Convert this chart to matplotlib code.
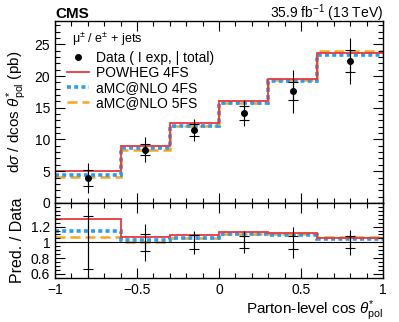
import matplotlib
matplotlib.use("Agg")
import matplotlib.pyplot as plt
import numpy as np
from matplotlib.ticker import MultipleLocator
from matplotlib.lines import Line2D

# bin edges in cos theta*_pol
edges = [-1.0, -0.6, -0.3, 0.0, 0.3, 0.6, 1.0]
centers = [-0.8, -0.45, -0.15, 0.15, 0.45, 0.8]

data_vals = [3.9, 8.4, 11.5, 14.2, 17.6, 22.4]
data_tot = [2.4, 2.0, 1.7, 2.0, 3.4, 3.6]
data_exp = [1.3, 0.9, 1.0, 1.1, 1.4, 1.7]

powheg_4fs = [5.05, 9.0, 12.55, 16.0, 19.6, 23.6]
amc_4fs = [4.45, 8.7, 12.2, 15.75, 19.3, 23.4]
amc_5fs = [4.15, 8.4, 12.1, 15.7, 19.4, 23.9]

RED = "#e8383d"
BLUE = "#2b9cf0"
ORANGE = "#f5a81c"

plt.rcParams["font.family"] = "Liberation Sans"
plt.rcParams["mathtext.fontset"] = "custom"
plt.rcParams["mathtext.rm"] = "Liberation Sans"
plt.rcParams["mathtext.it"] = "Liberation Sans:italic"


def style_axis(ax):
    ax.tick_params(which="both", direction="in", top=True, right=True, labelsize=10)
    ax.tick_params(which="major", length=7, width=0.8)
    ax.tick_params(which="minor", length=3.5, width=0.8)
    for sp in ax.spines.values():
        sp.set_linewidth(1.0)


fig = plt.figure(figsize=(3.99, 3.22), dpi=100)
ax = fig.add_axes([0.138, 0.370, 0.822, 0.565])
rax = fig.add_axes([0.138, 0.137, 0.822, 0.233], sharex=ax)

d = np.array(data_vals)
models = [
    (powheg_4fs, dict(color=RED, lw=1.3, ls="-"), "POWHEG 4FS"),
    (amc_4fs, dict(color=BLUE, lw=2.6, ls=(0, (1.1, 0.9))), "aMC@NLO 4FS"),
    (amc_5fs, dict(color=ORANGE, lw=1.8, ls=(0, (4, 2))), "aMC@NLO 5FS"),
]

# draw 5FS first, then 4FS dotted on top, red on top
for vals, kw, _ in [models[2], models[1], models[0]]:
    ax.stairs(vals, edges, baseline=None, **kw)
    rax.stairs(np.array(vals) / d, edges, baseline=None, **kw)

ax.errorbar(centers, data_vals, yerr=data_tot, fmt="none", ecolor="black",
            elinewidth=0.8, capsize=0, zorder=5)
ax.errorbar(centers, data_vals, yerr=data_exp, fmt="o", color="black", ms=4,
            ecolor="black", elinewidth=0.8, capsize=3.5, capthick=0.8, zorder=6)

rax.errorbar(centers, np.ones(6), yerr=np.array(data_tot) / d, fmt="none",
             ecolor="black", elinewidth=0.8, capsize=0, zorder=5)
rax.errorbar(centers, np.ones(6), yerr=np.array(data_exp) / d, fmt="none",
             ecolor="black", elinewidth=0.8, capsize=3.5, capthick=0.8, zorder=6)
rax.axhline(1.0, color="black", lw=0.8, zorder=1)

ax.set_xlim(-1, 1)
ax.set_ylim(0, 28.7)
ax.yaxis.set_major_locator(MultipleLocator(5))
ax.yaxis.set_minor_locator(MultipleLocator(1))
ax.xaxis.set_major_locator(MultipleLocator(0.5))
ax.xaxis.set_minor_locator(MultipleLocator(0.1))
plt.setp(ax.get_xticklabels(), visible=False)
ax.set_ylabel(r"d$\sigma$ / dcos $\theta^{*}_{\rm pol}$ (pb)", fontsize=11)
style_axis(ax)

rax.set_ylim(0.55, 1.5)
rax.set_yticks([0.6, 0.8, 1.0, 1.2])
rax.set_yticklabels(["0.6", "0.8", "1", "1.2"])
rax.yaxis.set_minor_locator(MultipleLocator(0.05))
rax.set_xticks([-1, -0.5, 0, 0.5, 1])
rax.set_xticklabels(["\u22121", "\u22120.5", "0", "0.5", "1"])
rax.set_ylabel("Pred. / Data", fontsize=11.5)
rax.set_xlabel(r"Parton-level cos $\theta^{*}_{\rm pol}$", fontsize=11,
               loc="right", labelpad=1)
style_axis(rax)

fig.align_ylabels([ax, rax])

# header texts
fig.text(0.138, 0.945, "CMS", fontsize=11, fontweight="bold", ha="left", va="baseline")
fig.text(0.96, 0.945, r"35.9 fb$^{-1}$ (13 TeV)", fontsize=10, ha="right", va="baseline")

# legend
ax.text(0.052, 0.945, "\u03bc$^{\\pm}$ / e$^{\\pm}$ + jets", transform=ax.transAxes,
        fontsize=9, va="top")
handles = [
    Line2D([], [], color="black", marker="o", ls="none", ms=4),
    Line2D([], [], **models[0][1]),
    Line2D([], [], **models[1][1]),
    Line2D([], [], **models[2][1]),
]
labels = ["Data ( I exp, | total)", "POWHEG 4FS", "aMC@NLO 4FS", "aMC@NLO 5FS"]
ax.legend(handles, labels, loc="upper left", bbox_to_anchor=(0.035, 0.835),
          frameon=False, fontsize=10, handlelength=1.65, handletextpad=0.45,
          labelspacing=0.08, borderaxespad=0, borderpad=0)

fig.savefig("out.png", dpi=100)
